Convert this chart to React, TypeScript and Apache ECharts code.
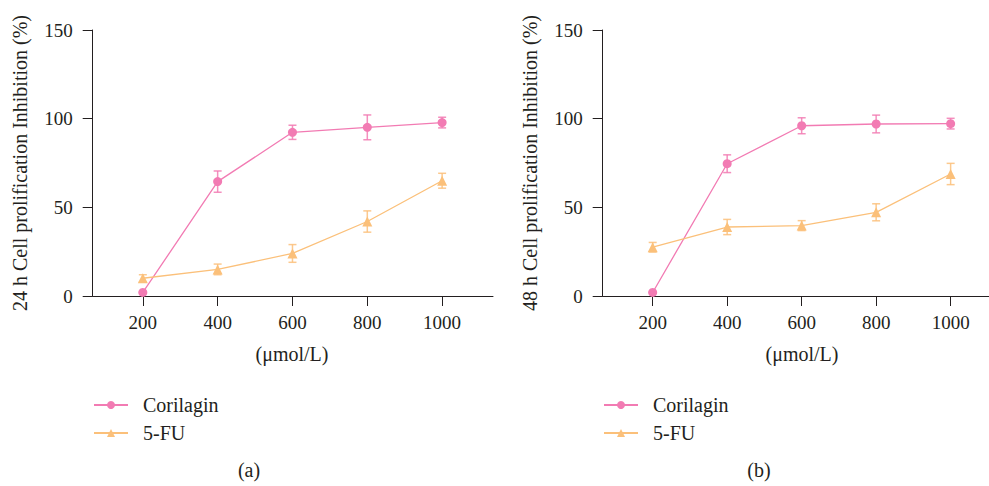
import React, { useEffect, useRef } from "react";
import * as echarts from "echarts";

const concentrations = [200, 400, 600, 800, 1000];
const xTicks = [200, 400, 600, 800, 1000];

const cori24 = [2, 64.5, 92.3, 95.1, 97.8];
const cori24Err = [0, 6, 4, 7, 3];
const fu24 = [10, 15, 24, 42, 65];
const fu24Err = [2, 3, 5, 6, 4.2];

const cori48 = [2, 74.6, 96, 97, 97.2];
const cori48Err = [0, 5, 4.5, 5, 3];
const fu48 = [27.5, 38.9, 39.7, 47.2, 68.8];
const fu48Err = [2.7, 4.3, 2.8, 4.8, 6];

const PINK = "#F27BB3";
const ORANGE = "#FBC07A";
const INK = "#231F20";
const FONT = "'Liberation Serif', 'Times New Roman', serif";

const pairs = (ys: number[]) => concentrations.map((x, i) => [x, ys[i]]);
const errData = (ys: number[], es: number[]) =>
  concentrations.map((x, i) => [x, ys[i] - es[i], ys[i] + es[i]]);

function errSeries(name: string, ys: number[], es: number[], color: string, idx: number) {
  return {
    type: "custom",
    name,
    xAxisIndex: idx,
    yAxisIndex: idx,
    data: errData(ys, es),
    z: 1,
    renderItem: (params: any, api: any) => {
      const x = api.value(0);
      const lo = api.coord([x, api.value(1)]);
      const hi = api.coord([x, api.value(2)]);
      const w = 4;
      const style = { stroke: color, lineWidth: 1.5, opacity: 0.85 };
      return {
        type: "group",
        children: [
          { type: "line", shape: { x1: lo[0], y1: lo[1], x2: hi[0], y2: hi[1] }, style },
          { type: "line", shape: { x1: lo[0] - w, y1: lo[1], x2: lo[0] + w, y2: lo[1] }, style },
          { type: "line", shape: { x1: hi[0] - w, y1: hi[1], x2: hi[0] + w, y2: hi[1] }, style },
        ],
      };
    },
  };
}

function lineSeries(name: string, ys: number[], color: string, symbol: string, size: number, idx: number) {
  return {
    type: "line",
    name,
    xAxisIndex: idx,
    yAxisIndex: idx,
    data: pairs(ys),
    symbol,
    symbolSize: size,
    showSymbol: true,
    z: 3,
    lineStyle: { color, width: 1.3 },
    itemStyle: { color, borderWidth: 0 },
  };
}

const xAxisCommon = (min: number, max: number) => ({
  type: "value",
  min,
  max,
  splitLine: { show: false },
  axisLine: { show: true, onZero: false, lineStyle: { color: INK, width: 1 } },
  axisTick: { show: true, length: 10, customValues: xTicks, lineStyle: { color: INK } },
  axisLabel: {
    customValues: xTicks,
    color: INK,
    fontFamily: FONT,
    fontSize: 19,
    margin: 17,
    formatter: (v: number) => String(v),
  },
});

const yAxisCommon = (name: string) => ({
  type: "value",
  min: 0,
  max: 150,
  interval: 50,
  name,
  nameLocation: "middle",
  nameGap: 63,
  nameTextStyle: { color: INK, fontFamily: FONT, fontSize: 20 },
  splitLine: { show: false },
  axisLine: { show: true, lineStyle: { color: INK, width: 1 } },
  axisTick: { show: true, length: 10, lineStyle: { color: INK } },
  axisLabel: { color: INK, fontFamily: FONT, fontSize: 19, margin: 20 },
});

const legendCommon = (left: number) => ({
  orient: "vertical",
  left,
  top: 390,
  itemWidth: 34,
  itemHeight: 10,
  itemGap: 8,
  data: ["Corilagin", "5-FU"],
  textStyle: { color: INK, fontFamily: FONT, fontSize: 20, padding: [0, 0, 0, 10] },
});

const textStyle = (text: string) => ({
  text,
  fill: INK,
  fontFamily: FONT,
  fontSize: 20,
  align: "center",
  verticalAlign: "middle",
});

export default function App() {
  const ref = useRef<HTMLDivElement>(null);
  useEffect(() => {
    if (!ref.current) return;
    const chart = echarts.init(ref.current, undefined, { renderer: "svg" });
    chart.setOption({
      animation: false,
      backgroundColor: "#ffffff",
      grid: [
        { left: 92.7, top: 30, width: 400.3, height: 266 },
        { left: 602.7, top: 30, width: 386.3, height: 266 },
      ],
      xAxis: [
        { ...xAxisCommon(66, 1136), gridIndex: 0 },
        { ...xAxisCommon(65.8, 1103), gridIndex: 1 },
      ],
      yAxis: [
        { ...yAxisCommon("24 h Cell prolification Inhibition (%)"), gridIndex: 0 },
        { ...yAxisCommon("48 h Cell prolification Inhibition (%)"), gridIndex: 1 },
      ],
      legend: [legendCommon(88), legendCommon(598)],
      series: [
        errSeries("err-c24", cori24, cori24Err, PINK, 0),
        errSeries("err-f24", fu24, fu24Err, ORANGE, 0),
        lineSeries("Corilagin", cori24, PINK, "circle", 9, 0),
        lineSeries("5-FU", fu24, ORANGE, "triangle", 10, 0),
        errSeries("err-c48", cori48, cori48Err, PINK, 1),
        errSeries("err-f48", fu48, fu48Err, ORANGE, 1),
        lineSeries("Corilagin", cori48, PINK, "circle", 9, 1),
        lineSeries("5-FU", fu48, ORANGE, "triangle", 10, 1),
      ],
      graphic: [
        { type: "text", x: 292, y: 354, style: textStyle("(μmol/L)") },
        { type: "text", x: 802, y: 354, style: textStyle("(μmol/L)") },
        { type: "text", x: 249, y: 470, style: textStyle("(a)") },
        { type: "text", x: 759, y: 470, style: textStyle("(b)") },
      ],
    });
    return () => chart.dispose();
  }, []);
  return (
    <div
      ref={ref}
      style={{ position: "absolute", left: 0, top: 0, width: 989, height: 486 }}
    />
  );
}
